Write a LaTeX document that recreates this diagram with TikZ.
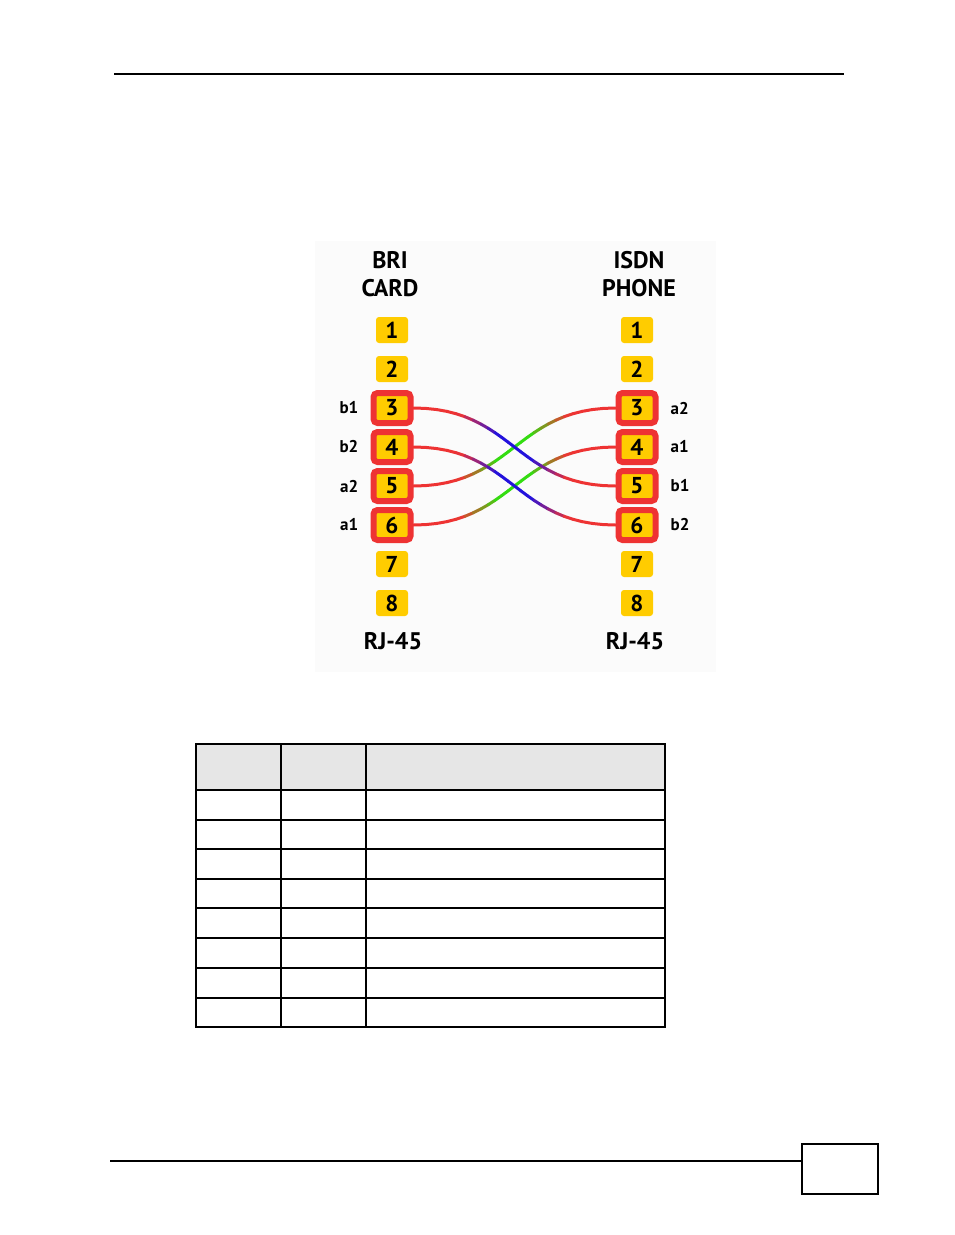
\documentclass[tikz,border=0pt]{standalone}
\usepackage{fontspec}
\setmainfont{PT Sans}
\usetikzlibrary{positioning}
\definecolor{pinyellow}{HTML}{FFCC00}
\definecolor{pinred}{HTML}{EE3333}
\definecolor{wireblue}{HTML}{2211DD}
\definecolor{wiregreen}{HTML}{33DD11}
\definecolor{headgray}{HTML}{E6E6E6}
\tikzset{
  pin/.style={rectangle, rounded corners=3pt, fill=pinyellow, minimum width=32pt, minimum height=26pt, inner sep=0pt, font=\bfseries\fontsize{23}{24}\selectfont},
  wiredpin/.style={pin, draw=pinred, line width=6pt, minimum width=37pt, minimum height=30pt, rounded corners=4pt},
  sidelabel/.style={inner sep=1pt, font=\bfseries\fontsize{17}{18}\selectfont},
  heading/.style={align=center, inner sep=0pt, font=\bfseries\fontsize{24}{28}\selectfont},
  rule/.style={line width=1.3pt}
}
\newcommand{\cablewire}[3]{%
  \path (#1.east) .. controls +(100,0) and +(-100,0) .. (#2.west)
    foreach \k in {0,...,24} {coordinate[pos=\k/24] (#1w\k)};
  \foreach \k [evaluate=\k as \m using {100*min(1,max(0,(0.32-abs((\k-0.5)/24-0.5))/0.22))}, remember=\k as \kp (initially 0)] in {1,...,24}
    \draw[line width=3pt, line cap=round, color=#3!\m!pinred] (#1w\kp) -- (#1w\k);
}
\begin{document}
\begin{tikzpicture}[x=1pt, y=-1pt]
\useasboundingbox (0,0) rectangle (954,1235);
\draw[rule] (114,74) -- (844,74);
\fill[black!1.5] (315,241) rectangle (716,672);
\node (bri) at (390,274) [heading] {BRI\\CARD};
\node (isdn) at (639,274) [heading] {ISDN\\PHONE};
\foreach \n in {1,2,7,8} {
  \node (l\n) at (392,{291+39*\n}) [pin] {\n};
  \node (r\n) at (637,{291+39*\n}) [pin] {\n};
}
\foreach \n in {3,...,6} {
  \node (l\n) at (392,{291+39*\n}) [wiredpin] {\n};
  \node (r\n) at (637,{291+39*\n}) [wiredpin] {\n};
}
\node (lb1) [sidelabel, left=11pt of l3] {b1};
\node (lb2) [sidelabel, left=11pt of l4] {b2};
\node (la2) [sidelabel, left=11pt of l5] {a2};
\node (la1) [sidelabel, left=11pt of l6] {a1};
\node (ra2) [sidelabel, right=11pt of r3] {a2};
\node (ra1) [sidelabel, right=11pt of r4] {a1};
\node (rb1) [sidelabel, right=11pt of r5] {b1};
\node (rb2) [sidelabel, right=11pt of r6] {b2};
\cablewire{l5}{r3}{wiregreen}
\cablewire{l6}{r4}{wiregreen}
\cablewire{l3}{r5}{wireblue}
\cablewire{l4}{r6}{wireblue}
\node (lrj) at (393,641) [heading] {RJ-45};
\node (rrj) at (635,641) [heading] {RJ-45};
\fill[headgray] (196,744) rectangle (665,790);
\foreach \y in {790,820,849,879,908,938,968,998}
  \draw[rule] (196,\y) -- (665,\y);
\foreach \x in {281,366}
  \draw[rule] (\x,744) -- (\x,1027);
\draw[rule] (196,744) rectangle (665,1027);
\draw[rule] (110,1161) -- (802,1161);
\draw[line width=2pt] (802,1144) rectangle (878,1194);
\end{tikzpicture}
\end{document}
